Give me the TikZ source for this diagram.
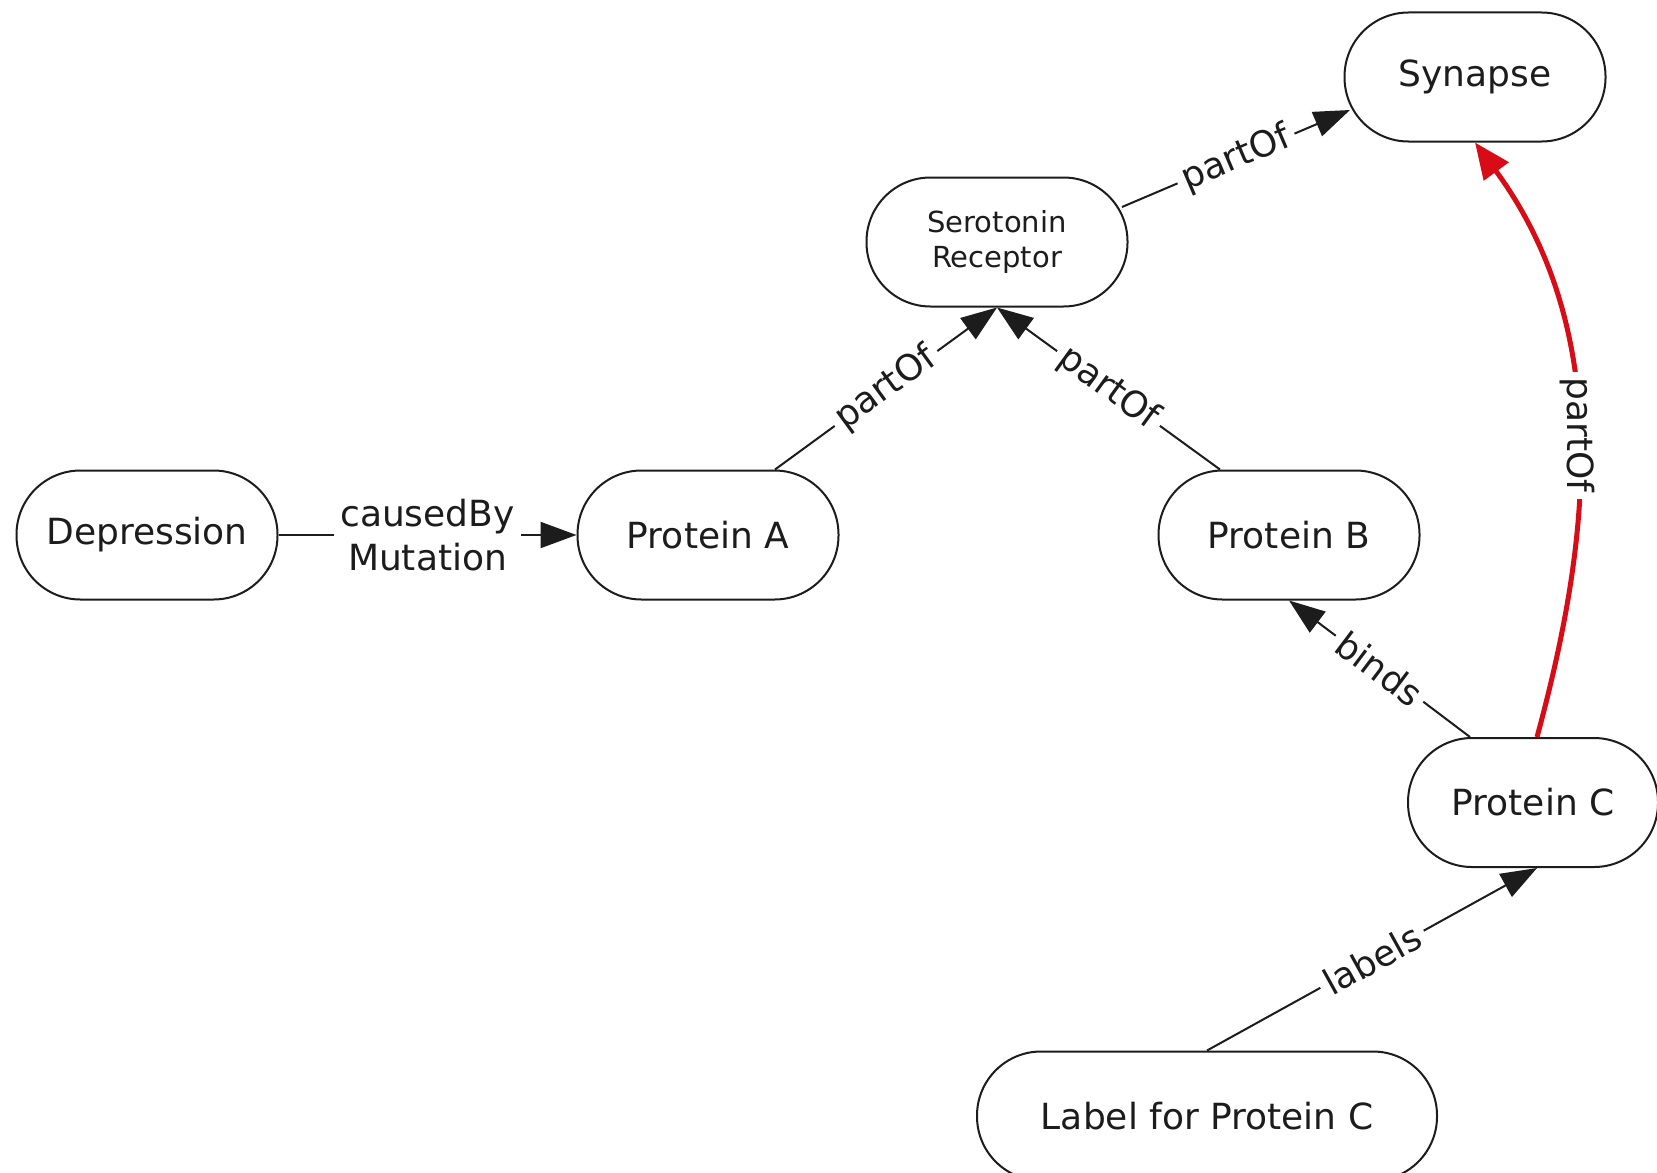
\documentclass[tikz,border=0pt]{standalone}
\usepackage{fontspec}
\setmainfont{DejaVu Sans}
\usetikzlibrary{arrows.meta,calc}
\definecolor{inkgray}{RGB}{28,28,28}
\definecolor{linkred}{RGB}{215,12,22}
\begin{document}
\begin{tikzpicture}[x=0.5pt,y=-0.5pt,
  concept/.style={draw=inkgray, line width=1pt, rounded corners=32pt,
    minimum width=130.5pt, minimum height=64.5pt, inner sep=0pt,
    text=inkgray, fill=white, font=\fontsize{18}{22}\selectfont},
  link/.style={draw=inkgray, line width=1pt,
    -{Triangle[length=18pt,width=13pt]}},
  redlink/.style={draw=linkred, line width=2.5pt,
    -{Triangle[length=18pt,width=15pt]}},
  linklabel/.style={fill=white, inner sep=3pt, text=inkgray,
    font=\fontsize{18}{22}\selectfont},
]
\useasboundingbox (0,0) rectangle (1657,1172);
\fill[white] (0,0) rectangle (1657,1172);

% concepts
\node[concept] (syn) at (1475,77) {Synapse};
\node[concept, align=center, font=\fontsize{14.5}{17.5}\selectfont] (sr) at (997,242) {Serotonin\\Receptor};
\node[concept] (dep) at (147,535) {Depression};
\node[concept] (pa) at (708,535) {Protein A};
\node[concept] (pb) at (1289,535) {Protein B};
\node[concept, minimum width=125pt] (pc) at (1533,802.5) {Protein C};
\node[concept, minimum width=230pt] (lab) at (1207,1116) {Label for Protein C};

% relations
\draw[link] (dep) -- node[linklabel, align=center] {causedBy\\Mutation} (pa);
\draw[link] ($(pa.north)+(67,0)$) -- node[linklabel, sloped] {partOf} (sr.south);
\draw[link] ($(pb.north)+(-69,0)$) -- node[linklabel, sloped] {partOf} (sr.south);
\draw[link] ($(sr.center)+(125,-35)$) -- node[linklabel, sloped] {partOf} ($(syn.center)+(-125,33)$);
\draw[link] ($(pc.north)+(-63,0)$) -- node[linklabel, sloped] {binds} (pb.south);
\draw[link] (lab.north) -- node[linklabel, sloped] {labels} ($(pc.south)+(4,0)$);
\draw[redlink] ($(pc.north)+(4,0)$) .. controls (1585,560) and (1620,340) ..
  node[pos=0.52, linklabel, rotate=-90] {partOf} (syn.south);
\end{tikzpicture}
\end{document}
